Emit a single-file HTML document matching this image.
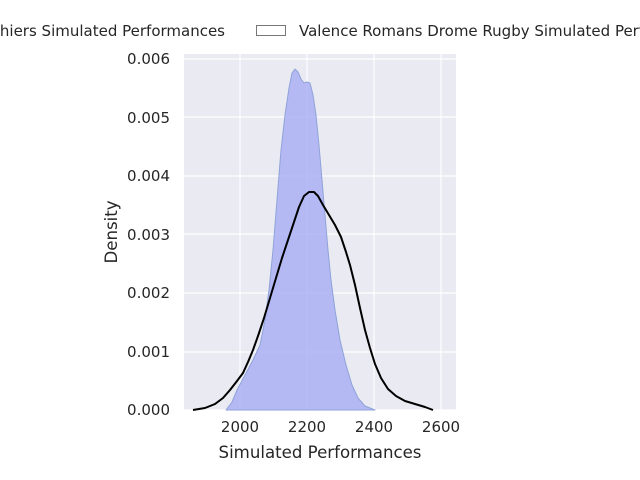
<!DOCTYPE html>
<html><head><style>body{margin:0;background:#fff}svg{display:block}text{font-family:"DejaVu Sans","Liberation Sans",sans-serif;fill:#262626}</style></head><body>
<svg width="640" height="480" viewBox="0 0 640 480" xmlns="http://www.w3.org/2000/svg">
<rect x="184" y="54" width="272" height="356" fill="#eaeaf2"/>
<g stroke="#fff" stroke-width="1.2">
<line x1="240" y1="54" x2="240" y2="410"/><line x1="307" y1="54" x2="307" y2="410"/><line x1="374" y1="54" x2="374" y2="410"/><line x1="441" y1="54" x2="441" y2="410"/>
<line x1="184" y1="59" x2="456" y2="59"/><line x1="184" y1="117" x2="456" y2="117"/><line x1="184" y1="176" x2="456" y2="176"/><line x1="184" y1="234" x2="456" y2="234"/><line x1="184" y1="293" x2="456" y2="293"/><line x1="184" y1="352" x2="456" y2="352"/><line x1="184" y1="410" x2="456" y2="410"/>
</g>
<polygon points="226,410 232,402 237,390 245,375 253,360 260,345 265,320 269,290 273,250 277,200 281,150 285,115 289,88 292,73 295,69 298,72 301,79 304,83 307,82 310,83 313,95 316,115 319,145 322,180 325,215 328,250 331,280 335,310 340,340 346,365 352,385 358,398 365,406 375,410" fill="#aab0f5" fill-opacity="0.85" stroke="#8fa3d8" stroke-width="1" stroke-linejoin="round"/>
<polyline points="193,410 205,408 215,404 223,398 230,390 237,381 243,373 248,362 253,350 258,336 264,318 270,298 276,278 282,258 288,240 294,222 299,207 304,196 309,192 314,192 318,196 323,205 329,215 335,225 341,237 346,252 350,265 355,285 360,308 365,330 370,348 375,364 381,378 388,389 396,396 405,401 415,404 425,407 433,410" fill="none" stroke="#000" stroke-width="2" stroke-linejoin="round"/>
<g font-size="15" text-anchor="end">
<text x="170" y="415">0.000</text><text x="170" y="357">0.001</text><text x="170" y="298">0.002</text><text x="170" y="240">0.003</text><text x="170" y="181">0.004</text><text x="170" y="123">0.005</text><text x="170" y="64">0.006</text>
</g>
<g font-size="15" text-anchor="middle">
<text x="240" y="432">2000</text><text x="307" y="432">2200</text><text x="374" y="432">2400</text><text x="441" y="432">2600</text>
<text x="320" y="458" font-size="16.6">Simulated Performances</text>
<text transform="translate(117,232) rotate(-90)" font-size="16.6">Density</text>
</g>
<text x="225" y="36" font-size="15" text-anchor="end">hiers Simulated Performances</text>
<rect x="256.5" y="25.5" width="29" height="10" fill="#fff" stroke="#777"/>
<text x="299" y="36" font-size="15">Valence Romans Drome Rugby Simulated Performances</text>
</svg>
</body></html>
